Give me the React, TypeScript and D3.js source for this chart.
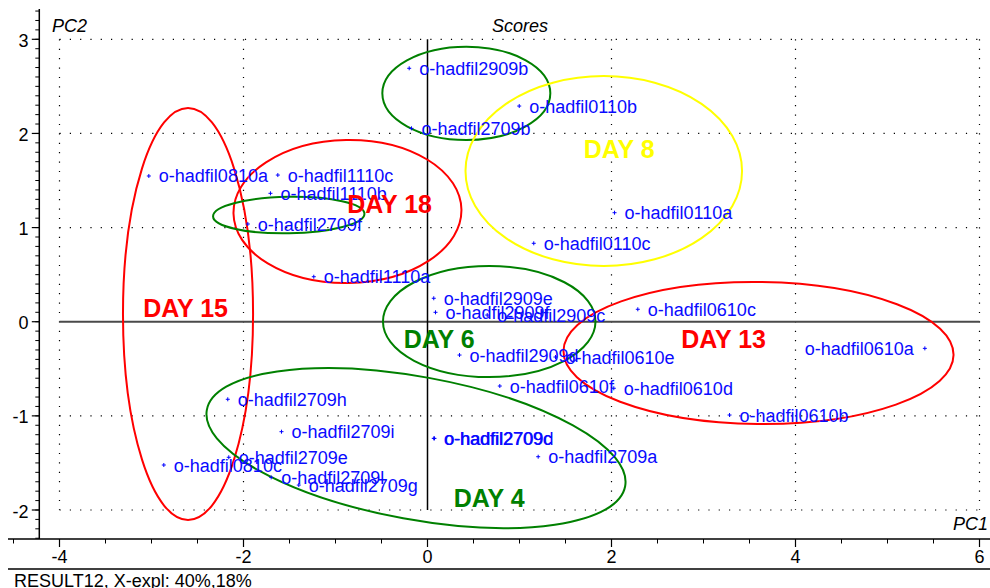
import React from "react";
import * as d3 from "d3";

// PCA scores: sample names with PC1 / PC2 coordinates
const sampleNames = [
  "o-hadfil2909b", "o-hadfil0110b", "o-hadfil2709b", "o-hadfil0810a", "o-hadfil1110c",
  "o-hadfil1110b", "o-hadfil2709f", "o-hadfil1110a", "o-hadfil0110a", "o-hadfil0110c",
  "o-hadfil2909e", "o-hadfil2909f", "o-hadfil2909c", "o-hadfil2909d", "o-hadfil0610e",
  "o-hadfil0610f", "o-hadfil0610d", "o-hadfil0610c", "o-hadfil0610a", "o-hadfil0610b",
  "o-hadfil2709h", "o-hadfil2709i", "o-hadfil0810c", "o-hadfil2709e", "o-hadfil2709l",
  "o-hadfil2709g", "o-hadfil2709c", "o-hadfil2709d", "o-hadfil2709a",
];
const pc1Scores = [
  -0.199, 0.997, -0.174, -3.029, -1.627,
  -1.707, -1.953, -1.236, 2.033, 1.155,
  0.068, 0.087, 0.649, 0.348, 1.391,
  0.786, 2.025, 2.286, 5.406, 3.283,
  -2.171, -1.587, -2.866, -2.160, -1.699,
  -1.399, 0.068, 0.076, 1.203,
];
const pc2Scores = [
  2.692, 2.291, 2.054, 1.548, 1.558,
  1.364, 1.038, 0.478, 1.158, 0.833,
  0.249, 0.100, 0.071, -0.354, -0.375,
  -0.683, -0.707, 0.132, -0.283, -0.991,
  -0.824, -1.168, -1.522, -1.440, -1.653,
  -1.735, -1.239, -1.239, -1.434,
];
// label placed on the left of the point for these samples
const leftLabelled = ["o-hadfil0610a"];

// Group outlines (data units): centre, semi-axes, screen rotation in degrees
const groupColors = ["red", "red", "green", "green", "yellow", "green", "red", "green"];
const groupCx = [-2.603, -0.870, -1.508, 0.422, 1.916, 0.671, 3.598, -0.125];
const groupCy = [0.082, 1.171, 1.133, 2.426, 1.601, 0.002, -0.332, -1.342];
const groupRx = [0.707, 1.239, 0.823, 0.913, 1.503, 1.155, 2.120, 2.311];
const groupRy = [2.188, 0.760, 0.194, 0.496, 1.009, 0.590, 0.754, 0.758];
const groupRot = [0, -1, -1, 0, 0, 0, 0.6, 10.35];

// Group captions
const dayLabels = ["DAY 15", "DAY 18", "DAY 8", "DAY 6", "DAY 13", "DAY 4"];
const dayColors = ["#ff0000", "#ff0000", "#ffff00", "#008000", "#ff0000", "#008000"];
const dayX = [-3.090, -0.873, 1.699, -0.258, 2.758, 0.286];
const dayY = [0.050, 1.151, 1.736, -0.283, -0.283, -1.972];

const xTicks = [-4, -2, 0, 2, 4, 6];
const yTicks = [-2, -1, 0, 1, 2, 3];

const W = 990;
const H = 588;
const FONT = "'Liberation Sans', Arial, Helvetica, sans-serif";

export default function App() {
  const x = d3.scaleLinear().domain([-4, 6]).range([59.5, 979.5]);
  const y = d3.scaleLinear().domain([-2, 3]).range([510, 39.3]);

  const axisLeft = 39.3;
  const axisBottom = 539;
  const yMin = y.invert(axisBottom);
  const yMax = y.invert(9);
  const xMin = x.invert(8);
  const xMax = x.invert(W);

  const yMinor = d3.range(Math.ceil(yMin * 10), Math.floor(yMax * 10) + 1).map((v) => v / 10);
  const xMinor = d3.range(Math.ceil(xMin * 2), Math.floor(xMax * 2) + 1).map((v) => v / 2);

  const gridX = xTicks.filter((t) => t !== 0);
  const gridY = yTicks.filter((t) => t !== 0);

  return (
    <div style={{ position: "absolute", left: 0, top: 0 }}>
      <svg width={W} height={H} style={{ display: "block", fontFamily: FONT }}>
        <rect width={W} height={H} fill="#fff" />

        {/* dotted grid */}
        {gridY.map((t) => (
          <line key={"gy" + t} x1={x(-4)} x2={x(6)} y1={y(t)} y2={y(t)}
            stroke="#000" strokeWidth={1.2} strokeDasharray="1.2 9.1" />
        ))}
        {gridX.map((t) => (
          <line key={"gx" + t} x1={x(t)} x2={x(t)} y1={y(3)} y2={y(-2)}
            stroke="#000" strokeWidth={1.2} strokeDasharray="1.2 8.2" />
        ))}

        {/* zero lines */}
        <line x1={x(-4)} x2={x(6)} y1={y(0)} y2={y(0)} stroke="#4a4a4a" strokeWidth={2} />
        <line x1={x(0)} x2={x(0)} y1={y(3)} y2={y(-2)} stroke="#000" strokeWidth={1.5} />

        {/* group outlines */}
        {groupCx.map((cx, i) => {
          const px = x(cx);
          const py = y(groupCy[i]);
          const rx = x(cx + groupRx[i]) - px;
          const ry = py - y(groupCy[i] + groupRy[i]);
          return (
            <ellipse key={"g" + i} cx={px} cy={py} rx={rx} ry={ry}
              transform={`rotate(${groupRot[i]} ${px} ${py})`}
              fill="none" stroke={groupColors[i]} strokeWidth={2} />
          );
        })}

        {/* score points */}
        {sampleNames.map((name, i) => {
          const px = x(pc1Scores[i]);
          const py = y(pc2Scores[i]);
          const left = leftLabelled.includes(name);
          return (
            <g key={"p" + i}>
              <path d={`M${px - 2},${py}H${px + 2}M${px},${py - 2}V${py + 2}`}
                stroke="#0000ff" strokeWidth={1} fill="none" />
              <text x={left ? px - 11 : px + 10} y={py + 6.5}
                textAnchor={left ? "end" : "start"}
                fontSize={18} fill="#0a0aff">{name}</text>
            </g>
          );
        })}

        {/* group captions */}
        {dayLabels.map((d, i) => (
          <text key={"d" + i} x={x(dayX[i])} y={y(dayY[i])} fontSize={25}
            fontWeight="bold" fill={dayColors[i]}>{d}</text>
        ))}

        {/* left axis */}
        <line x1={axisLeft} x2={axisLeft} y1={9} y2={axisBottom} stroke="#000" strokeWidth={1.5} />
        {yMinor.map((t) => (
          <line key={"ym" + t} x1={axisLeft - 4} x2={axisLeft} y1={y(t)} y2={y(t)}
            stroke="#000" strokeWidth={1} />
        ))}
        {yTicks.map((t) => (
          <g key={"yt" + t}>
            <line x1={axisLeft - 7.5} x2={axisLeft} y1={y(t)} y2={y(t)} stroke="#000" strokeWidth={1.2} />
            <text x={28.5} y={y(t) + 7.5} textAnchor="end" fontSize={18} fill="#000">
              {t < 0 ? "-" + Math.abs(t) : String(t)}
            </text>
          </g>
        ))}

        {/* bottom axis */}
        <line x1={8} x2={W} y1={axisBottom} y2={axisBottom} stroke="#000" strokeWidth={1.5} />
        {xMinor.map((t) => (
          <line key={"xm" + t} x1={x(t)} x2={x(t)} y1={axisBottom} y2={axisBottom + 4.5}
            stroke="#000" strokeWidth={1} />
        ))}
        {xTicks.map((t) => (
          <g key={"xt" + t}>
            <line x1={x(t)} x2={x(t)} y1={axisBottom} y2={axisBottom + 8} stroke="#000" strokeWidth={1.2} />
            <text x={x(t)} y={563} textAnchor="middle" fontSize={18} fill="#000">
              {t < 0 ? "-" + Math.abs(t) : String(t)}
            </text>
          </g>
        ))}

        {/* titles */}
        <text x={52} y={31.5} fontSize={18} fontStyle="italic" fill="#000">PC2</text>
        <text x={492} y={31.5} fontSize={18} fontStyle="italic" fill="#000">Scores</text>
        <text x={953} y={530} fontSize={18} fontStyle="italic" fill="#000">PC1</text>

        {/* footer */}
        <line x1={8} x2={W} y1={569} y2={569} stroke="#000" strokeWidth={1.5} />
        <text x={14} y={586.5} fontSize={18} fill="#000">RESULT12, X-expl: 40%,18%</text>
      </svg>
    </div>
  );
}
